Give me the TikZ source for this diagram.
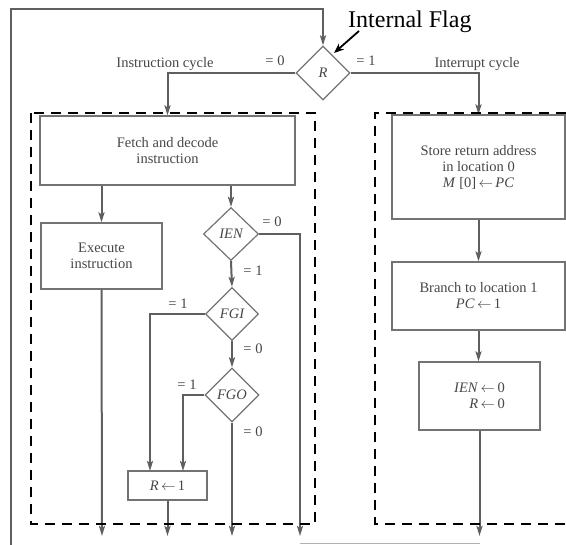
\documentclass[tikz,border=0pt]{standalone}
\usepackage{fontspec}
\setmainfont{Liberation Serif}
\usetikzlibrary{shapes.geometric,arrows.meta}
\definecolor{flowgray}{RGB}{95,95,95}
\definecolor{boxgray}{RGB}{115,115,115}
\definecolor{txtgray}{RGB}{70,70,70}
\newcommand{\assignarrow}{\,$\leftarrow$\,}

\begin{document}
\begin{tikzpicture}[x=1pt,y=-1pt,
  every node/.style={font=\fontsize{14.5}{16}\selectfont, text=txtgray},
  procbox/.style={draw=boxgray, line width=1.2pt, rectangle, inner sep=0pt, align=center},
  testnode/.style={draw=boxgray, line width=1.2pt, diamond, inner sep=0pt,
    font=\fontsize{14.5}{16}\selectfont\itshape},
  flow/.style={draw=flowgray, line width=2pt, -{Stealth[length=10pt,width=6pt,inset=2pt]}},
  flowline/.style={draw=flowgray, line width=2pt},
  region/.style={draw=black, line width=2.5pt, dash pattern=on 10pt off 7pt},
  lbl/.style={inner sep=0pt}
]
\useasboundingbox (0,0) rectangle (566,545);

% decision on the interrupt flip-flop
\node[testnode, minimum width=54pt, minimum height=54pt] (R) at (323,73) {R};

% instruction cycle
\node[procbox, minimum width=255pt, minimum height=69pt] (fetch) at (167.5,150.5) {Fetch and decode\\instruction};
\node[procbox, minimum width=121pt, minimum height=66pt] (exec) at (101.5,256) {Execute\\instruction};
\node[testnode, minimum width=55pt, minimum height=53pt] (ien) at (231,234) {IEN};
\node[testnode, minimum width=53pt, minimum height=53pt] (fgi) at (232,314) {FGI};
\node[testnode, minimum width=54pt, minimum height=54pt] (fgo) at (232,395) {FGO};
\node[procbox, minimum width=79pt, minimum height=29pt] (rset) at (167.5,485.5) {\textit{R}\assignarrow 1};

% interrupt cycle
\node[procbox, minimum width=173pt, minimum height=104pt] (store) at (478.5,167) {Store return address\\in location 0\\\textit{M} [0]\assignarrow\textit{PC}};
\node[procbox, minimum width=173pt, minimum height=68pt] (branch) at (478.5,296) {Branch to location 1\\\textit{PC}\assignarrow 1};
\node[procbox, minimum width=121pt, minimum height=68pt, align=right] (clear) at (479.5,396) {\textit{IEN}\assignarrow 0\\\textit{R}\assignarrow 0};

% loose ends of the flow lines
\coordinate (loopbot) at (11,545);
\coordinate (looptop) at (11,9);
\coordinate (ienturn) at (300,234);
\coordinate (ienout) at (300,536);
\coordinate (execout) at (102,536);
\coordinate (rsetout) at (167.5,536);
\coordinate (fgoout) at (232,536);
\coordinate (clearout) at (479.5,536);
\coordinate (fgiin) at (150,471);
\coordinate (fgoin) at (183,471);
\coordinate (joinl) at (300,543);
\coordinate (joinr) at (479.5,543);

% flow lines
\draw[flow] (loopbot) -- (looptop) -| (R.north);
\draw[flow] (R.west) -| (fetch.north);
\draw[flow] (R.east) -| (store.north);
\draw[flow] (fetch.south -| exec.north) -- (exec.north);
\draw[flow] (fetch.south -| ien.north) -- (ien.north);
\draw[flow] (exec.south) -- (execout);
\draw[flow] (ien.east) -- (ienturn) -- (ienout);
\draw[flow] (ien.south) -- (fgi.north);
\draw[flow] (fgi.west) -| (fgiin);
\draw[flow] (fgi.south) -- (fgo.north);
\draw[flow] (fgo.west) -| (fgoin);
\draw[flow] (fgo.south) -- (fgoout);
\draw[flow] (rset.south) -- (rsetout);
\draw[flow] (store.south) -- (store.south |- branch.north);
\draw[flow] (branch.south) -- (branch.south |- clear.north);
\draw[flow] (clear.south) -- (clearout);
\draw[draw=gray!60, line width=0.8pt] (joinl) -- (joinr);

% branch labels
\node[lbl] (lic) at (165,64) {Instruction cycle};
\node[lbl] (lr0) at (275,61) {= 0};
\node[lbl] (lr1) at (366,61) {= 1};
\node[lbl] (lirq) at (477,64) {Interrupt cycle};
\node[lbl] (lien0) at (272,222) {= 0};
\node[lbl] (lien1) at (253,271) {= 1};
\node[lbl] (lfgi1) at (178,304) {= 1};
\node[lbl] (lfgi0) at (253,349) {= 0};
\node[lbl] (lfgo1) at (187,385) {= 1};
\node[lbl] (lfgo0) at (253,432) {= 0};

% annotation of the flag
\node[lbl, text=black, font=\fontsize{24}{28}\selectfont, anchor=west] (flag) at (348,22) {Internal Flag};
\coordinate (flagtip) at (334,53);
\draw[black, line width=1.8pt, -{Stealth[length=10pt,width=8pt]}] (359,31) -- (flagtip);

% dashed outlines of the two cycles
\draw[region] (31,113) rectangle (315,524);
\draw[region] (566,113) -- (375,113) -- (375,524) -- (566,524);
\end{tikzpicture}
\end{document}
